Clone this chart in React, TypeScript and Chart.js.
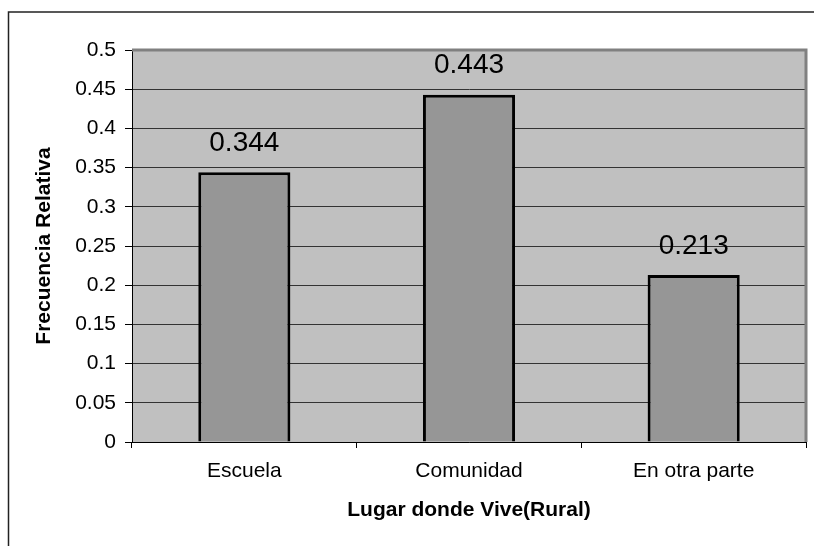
import React, { useEffect, useRef } from 'react';
import { Chart, registerables } from 'chart.js';

Chart.register(...registerables);

const categories = ['Escuela', 'Comunidad', 'En otra parte'];
const frecuencias = [0.344, 0.443, 0.213];
const dataLabels = ['0.344', '0.443', '0.213'];
const yTickLabels = ['0', '0.05', '0.1', '0.15', '0.2', '0.25', '0.3', '0.35', '0.4', '0.45', '0.5'];
const xTitle = 'Lugar donde Vive(Rural)';
const yTitle = 'Frecuencia Relativa';

const FONT = '"Liberation Sans", Arial, sans-serif';

const plotBg = {
  id: 'plotBg',
  beforeDraw(chart: any) {
    const { ctx, chartArea: a } = chart;
    ctx.save();
    ctx.fillStyle = '#c0c0c0';
    ctx.fillRect(a.left, a.top, a.right - a.left, a.bottom - a.top);
    ctx.restore();
  },
  afterDraw(chart: any) {
    const { ctx, chartArea: a } = chart;
    ctx.save();
    ctx.strokeStyle = '#808080';
    ctx.lineWidth = 3;
    ctx.beginPath();
    ctx.moveTo(a.left, a.top);
    ctx.lineTo(a.right, a.top);
    ctx.lineTo(a.right, a.bottom);
    ctx.stroke();
    // outer frame
    ctx.strokeStyle = '#222';
    ctx.lineWidth = 1.5;
    ctx.beginPath();
    ctx.moveTo(8.5, chart.height + 5);
    ctx.lineTo(8.5, 12);
    ctx.lineTo(chart.width + 5, 12);
    ctx.stroke();
    ctx.restore();
  },
};

const barLabels = {
  id: 'barLabels',
  afterDatasetsDraw(chart: any) {
    const { ctx } = chart;
    const meta = chart.getDatasetMeta(0);
    ctx.save();
    ctx.font = `28px ${FONT}`;
    ctx.fillStyle = '#000';
    ctx.textAlign = 'center';
    ctx.textBaseline = 'middle';
    meta.data.forEach((el: any, i: number) => {
      ctx.fillText(dataLabels[i], el.x, el.y - 29);
    });
    ctx.restore();
  },
};

export default function App() {
  const ref = useRef<HTMLCanvasElement>(null);
  useEffect(() => {
    const canvas = ref.current!;
    const chart = new Chart(canvas, {
      type: 'bar',
      data: {
        labels: categories,
        datasets: [
          {
            data: frecuencias,
            backgroundColor: '#969696',
            borderColor: '#000',
            borderWidth: 3,
            borderSkipped: 'start',
            barPercentage: 0.41,
            categoryPercentage: 1,
          },
        ],
      },
      options: {
        responsive: false,
        animation: false,
        devicePixelRatio: 1,
        layout: { padding: { top: 50, right: 8, left: 0, bottom: 0 } },
        plugins: {
          legend: { display: false },
          tooltip: { enabled: false },
          title: { display: false },
        },
        scales: {
          x: {
            afterFit(scale: any) {
              scale.height = 104;
            },
            grid: {
              display: true,
              drawOnChartArea: false,
              drawTicks: true,
              tickLength: 6,
              color: '#000',
              offset: true,
            },
            border: { display: true, color: '#000', width: 1 },
            ticks: {
              color: '#000',
              font: { family: FONT, size: 21 },
              padding: 11,
              maxRotation: 0,
            },
            title: {
              display: true,
              text: xTitle,
              color: '#000',
              font: { family: FONT, size: 21, weight: 'bold' },
              padding: { top: 0, bottom: 23 },
            },
          },
          y: {
            min: 0,
            max: 0.5,
            afterFit(scale: any) {
              scale.width = 132;
            },
            ticks: {
              stepSize: 0.05,
              color: '#000',
              font: { family: FONT, size: 21 },
              padding: 9,
              callback: (_v: any, i: number) => yTickLabels[i],
            },
            grid: {
              color: '#333',
              lineWidth: 1,
              tickLength: 7,
              tickColor: '#000',
            },
            border: { display: true, color: '#000', width: 1 },
            title: {
              display: true,
              text: yTitle,
              color: '#000',
              font: { family: FONT, size: 21, weight: 'bold' },
              padding: { top: 32, bottom: 0 },
            },
          },
        },
      },
      plugins: [plotBg, barLabels],
    });
    return () => chart.destroy();
  }, []);
  return (
    <canvas
      ref={ref}
      width={814}
      height={546}
      style={{ position: 'fixed', left: 0, top: 0, width: '814px', height: '546px' }}
    />
  );
}
